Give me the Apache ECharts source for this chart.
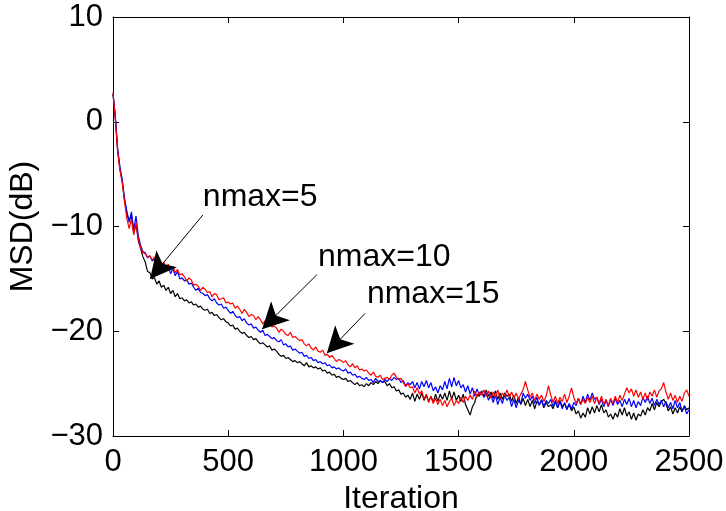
<!DOCTYPE html>
<html>
<head>
<meta charset="utf-8">
<script src="https://cdn.jsdelivr.net/npm/echarts@6/dist/echarts.min.js"></script>
<style>
html,body{margin:0;padding:0;background:#fff;}
#chart{width:726px;height:511px;}
</style>
</head>
<body>
<div id="chart"></div>
<script>
const iterStep = 10;
const seriesNames = ['nmax=5', 'nmax=10', 'nmax=15'];
const xTicks = [0, 500, 1000, 1500, 2000, 2500];
const yTicks = [-30, -20, -10, 0, 10];

const msdBlack = [
 2.7, 0.4, -2.7, -4.5, -5.7, -7.5, -8.8, -9.4, -9.0, -10.6,
 -9.8, -11.4, -12.1, -12.9, -13.4, -14.3, -14.4, -15.0, -14.9, -15.5,
 -15.2, -15.8, -15.6, -16.1, -15.8, -16.4, -16.1, -16.7, -16.4, -16.9,
 -16.8, -17.1, -17.0, -17.3, -17.2, -17.5, -17.4, -17.7, -17.6, -17.9,
 -18.0, -17.9, -18.3, -18.2, -18.5, -18.4, -18.7, -18.9, -18.8, -19.1,
 -19.2, -19.5, -19.4, -19.8, -19.7, -20.0, -20.2, -20.1, -20.4, -20.6,
 -20.5, -20.8, -20.7, -21.0, -21.2, -21.1, -21.3, -21.5, -21.4, -21.8,
 -21.7, -21.9, -22.2, -22.4, -22.3, -22.6, -22.5, -22.7, -22.9, -22.8,
 -23.0, -22.9, -23.1, -23.3, -23.0, -23.4, -23.3, -23.5, -23.4, -23.6,
 -23.5, -23.8, -23.7, -24.0, -23.9, -24.2, -24.1, -24.4, -24.3, -24.5,
 -24.6, -24.5, -24.8, -24.7, -24.9, -25.1, -24.9, -25.2, -25.1, -25.3,
 -25.0, -25.2, -24.9, -25.1, -24.8, -25.0, -24.7, -24.9, -24.8, -25.2,
 -25.0, -25.4, -25.3, -25.7, -25.6, -26.0, -25.9, -26.3, -26.1, -26.5,
 -25.9, -26.7, -26.0, -26.5, -25.9, -26.6, -26.1, -26.7, -26.2, -26.8,
 -26.0, -26.7, -26.0, -26.5, -25.9, -26.6, -25.7, -26.5, -25.8, -26.6,
 -26.1, -26.7, -26.0, -27.0, -27.5, -28.0, -27.2, -26.8, -26.0, -26.2,
 -25.7, -26.3, -25.6, -26.2, -25.8, -26.4, -25.7, -26.5, -25.9, -26.5,
 -25.9, -26.2, -26.0, -26.7, -26.1, -26.9, -26.3, -27.0, -26.4, -27.1,
 -26.5, -27.2, -26.6, -27.4, -26.7, -27.0, -26.6, -27.3, -26.8, -27.2,
 -27.0, -27.4, -26.7, -27.3, -26.6, -27.2, -26.9, -27.4, -27.0, -27.6,
 -27.2, -27.9, -27.6, -28.3, -27.8, -28.2, -27.3, -27.9, -27.2, -27.8,
 -27.1, -27.7, -27.0, -27.8, -27.5, -28.2, -27.9, -28.4, -27.8, -28.2,
 -27.4, -28.0, -27.3, -28.1, -27.7, -28.4, -27.8, -28.5, -27.9, -28.1,
 -27.5, -28.0, -27.3, -27.6, -26.9, -27.5, -26.8, -27.2, -26.7, -26.5,
 -26.9, -27.6, -27.2, -27.9, -27.3, -27.8, -27.2, -27.7, -27.1, -27.5,
 -27.3
];

const msdBlue = [
 2.6, 0.6, -2.5, -4.3, -5.5, -7.3, -8.5, -9.6, -8.6, -10.3,
 -9.0, -10.9, -11.8, -12.4, -12.5, -13.0, -12.8, -13.3, -13.1, -13.5,
 -13.3, -13.8, -13.5, -14.2, -13.8, -14.5, -14.0, -14.7, -14.3, -15.0,
 -14.9, -15.2, -15.1, -15.5, -15.4, -15.8, -16.1, -15.9, -16.3, -16.4,
 -16.6, -16.5, -16.9, -17.1, -16.9, -17.3, -17.5, -17.4, -17.8, -17.7,
 -18.0, -18.3, -18.1, -18.5, -18.7, -18.6, -19.0, -18.8, -19.2, -19.4,
 -19.3, -19.7, -19.6, -19.9, -20.1, -19.9, -20.4, -20.3, -20.5, -20.7,
 -20.6, -20.9, -21.0, -20.8, -21.3, -21.2, -21.5, -21.4, -21.8, -21.7,
 -21.9, -22.1, -22.0, -22.4, -22.3, -22.6, -22.5, -22.8, -22.7, -23.0,
 -22.9, -23.1, -23.0, -23.3, -23.2, -23.5, -23.4, -23.6, -23.5, -23.7,
 -23.8, -23.6, -24.0, -23.9, -24.2, -24.1, -24.4, -24.3, -24.5, -24.6,
 -24.4, -24.7, -24.6, -24.9, -24.5, -24.8, -24.7, -24.9, -24.6, -24.8,
 -24.5, -24.7, -24.4, -24.6, -24.5, -24.9, -24.7, -25.2, -24.9, -25.1,
 -24.8, -25.4, -24.9, -25.5, -24.8, -25.3, -24.7, -25.4, -24.9, -25.7,
 -25.3, -25.9, -25.2, -25.6, -24.8, -25.5, -24.5, -25.3, -24.4, -25.2,
 -24.7, -25.4, -25.1, -25.8, -25.2, -26.0, -25.4, -26.2, -25.5, -26.1,
 -25.7, -26.3, -25.9, -26.6, -26.0, -26.8, -26.1, -27.0, -26.3, -26.9,
 -26.1, -26.6, -26.3, -27.2, -26.5, -27.3, -26.6, -26.9, -25.9, -26.4,
 -26.0, -26.6, -26.2, -26.9, -26.3, -27.1, -26.5, -27.2, -26.6, -26.9,
 -26.5, -27.2, -26.6, -27.3, -26.7, -27.4, -26.8, -27.5, -26.9, -27.4,
 -26.8, -27.1, -26.4, -27.0, -26.2, -26.8, -26.0, -26.6, -25.9, -26.5,
 -26.3, -27.0, -26.5, -27.2, -26.6, -27.2, -26.5, -27.1, -26.4, -27.0,
 -26.6, -27.2, -26.5, -27.0, -26.4, -27.2, -26.6, -27.3, -26.7, -27.1,
 -26.3, -26.8, -26.2, -26.9, -26.4, -27.1, -26.5, -27.0, -26.6, -27.2,
 -26.7, -27.3, -26.8, -27.4, -26.6, -27.3, -26.8, -27.6, -27.2, -27.9,
 -27.5
];

const msdRed = [
 2.8, 0.3, -2.8, -4.6, -5.8, -7.6, -9.2, -10.2, -9.3, -10.8,
 -9.6, -11.2, -12.0, -12.5, -12.6, -12.9, -12.8, -13.2, -12.9, -13.3,
 -13.3, -13.7, -13.4, -13.9, -13.6, -14.1, -13.8, -14.4, -14.1, -14.6,
 -14.5, -14.8, -15.2, -14.9, -15.1, -15.6, -15.5, -15.7, -16.1, -15.8,
 -16.0, -16.3, -16.2, -16.7, -16.4, -16.5, -17.0, -16.9, -16.8, -17.3,
 -17.2, -17.4, -17.3, -17.8, -17.6, -17.9, -18.3, -17.9, -18.2, -18.6,
 -18.4, -18.5, -18.9, -18.6, -18.9, -19.3, -19.0, -19.4, -19.2, -19.6,
 -19.5, -19.7, -20.1, -19.8, -20.0, -20.3, -20.4, -20.1, -20.6, -20.5,
 -20.7, -20.9, -20.8, -21.2, -21.4, -21.2, -21.6, -21.8, -21.5, -21.9,
 -22.0, -21.8, -22.3, -22.2, -22.5, -22.3, -22.6, -22.9, -22.7, -22.8,
 -23.0, -22.8, -23.2, -23.4, -23.1, -23.5, -23.3, -23.7, -23.6, -23.8,
 -23.7, -24.0, -24.2, -23.9, -24.3, -24.4, -24.2, -24.6, -24.5, -24.4,
 -24.6, -24.2, -24.0, -24.4, -24.6, -24.5, -24.9, -25.3, -25.0, -25.4,
 -25.3, -25.9, -25.4, -26.0, -25.7, -26.5, -26.0, -26.8, -26.2, -26.9,
 -26.4, -27.0, -26.5, -27.1, -26.6, -27.2, -26.7, -26.4, -27.1, -26.6,
 -26.9, -26.3, -26.8, -26.2, -26.6, -26.1, -26.5, -25.7, -26.3, -25.8,
 -26.1, -25.6, -26.2, -25.7, -26.4, -25.8, -26.3, -25.6, -26.4, -25.9,
 -26.2, -25.6, -26.3, -25.8, -26.4, -25.9, -26.5, -26.0, -25.6, -24.8,
 -25.6, -26.3, -25.9, -26.6, -26.0, -26.5, -26.1, -26.7, -26.2, -25.2,
 -26.1, -26.8, -26.2, -26.9, -26.3, -26.7, -26.0, -26.8, -26.2, -25.4,
 -26.3, -26.9, -26.4, -27.0, -26.5, -26.9, -26.3, -26.8, -26.2, -26.9,
 -26.3, -26.9, -26.2, -27.0, -26.5, -27.1, -26.4, -26.9, -26.2, -26.8,
 -26.1, -26.6, -26.0, -25.4, -25.9, -25.5, -26.2, -25.6, -26.3, -25.8,
 -26.5, -25.9, -26.6, -25.8, -26.2, -25.6, -26.3, -25.7, -25.5, -24.9,
 -25.8, -26.5, -25.9, -26.6, -26.1, -26.8, -26.2, -26.7, -25.9, -25.6,
 -26.2
];

// annotation text anchors (data coords: iteration, dB) — left/middle of text
const annotText = [[390, -7.2], [890, -12.95], [1102, -16.5]];
// arrow tails and tips (data coords)
const arrowTail = [[390, -8.9], [885, -14.6], [1094, -18.3]];
const arrowTip  = [[161, -15.0], [647, -19.8], [928, -22.1]];

// ---- build ----
function toPairs(arr) { return arr.map((v, i) => [i * iterStep, v]); }
const minusFmt = v => (v < 0 ? '\u2212' + Math.abs(v) : String(v));
const plainFmt = v => String(v);
const FONT = 'Liberation Sans, Arial, Helvetica, sans-serif';

const chart = echarts.init(document.getElementById('chart'), null, {renderer: 'canvas'});

const axisLine = {show: true, onZero: false, lineStyle: {color: '#000', width: 1}};
const axisTick = {show: true, inside: true, length: 6, lineStyle: {color: '#000', width: 1}};

const arrowLines = arrowTail.map((t, i) => [
  {coord: t, symbol: 'none'},
  {coord: arrowTip[i], symbol: 'arrow'}
]);

chart.setOption({
  animation: false,
  backgroundColor: '#fff',
  grid: {left: 113, right: 37, top: 17, bottom: 75, containLabel: false, outerBoundsMode: 'none'},
  xAxis: [
    {type: 'value', min: xTicks[0], max: xTicks[xTicks.length - 1], interval: 500, position: 'bottom',
     name: 'Iteration', nameLocation: 'middle', nameGap: 46,
     nameTextStyle: {fontSize: 32, color: '#000', fontFamily: FONT},
     axisLine: axisLine, axisTick: axisTick, splitLine: {show: false},
     axisLabel: {fontSize: 31, color: '#000', fontFamily: FONT, margin: 11, formatter: plainFmt}},
    {type: 'value', min: xTicks[0], max: xTicks[xTicks.length - 1], interval: 500, position: 'top',
     axisLine: axisLine, axisTick: axisTick, splitLine: {show: false}, axisLabel: {show: false}}
  ],
  yAxis: [
    {type: 'value', min: yTicks[0], max: yTicks[yTicks.length - 1], interval: 10, position: 'left',
     name: 'MSD(dB)', nameLocation: 'middle', nameGap: 71, nameRotate: 90,
     nameTextStyle: {fontSize: 32, color: '#000', fontFamily: FONT},
     axisLine: axisLine, axisTick: axisTick, splitLine: {show: false},
     axisLabel: {fontSize: 31, color: '#000', fontFamily: FONT, margin: 10, formatter: minusFmt}},
    {type: 'value', min: yTicks[0], max: yTicks[yTicks.length - 1], interval: 10, position: 'right',
     axisLine: axisLine, axisTick: axisTick, splitLine: {show: false}, axisLabel: {show: false}}
  ],
  series: [
    {name: seriesNames[0], type: 'line', data: toPairs(msdBlack), showSymbol: false, symbol: 'none',
     lineStyle: {color: '#000000', width: 1.2}, z: 2, silent: true},
    {name: seriesNames[1], type: 'line', data: toPairs(msdBlue), showSymbol: false, symbol: 'none',
     lineStyle: {color: '#0000ff', width: 1.2}, z: 3, silent: true},
    {name: seriesNames[2], type: 'line', data: toPairs(msdRed), showSymbol: false, symbol: 'none',
     lineStyle: {color: '#ff0000', width: 1.2}, z: 4, silent: true,
     markLine: {silent: true, symbol: ['none', 'arrow'], symbolSize: [20, 26],
       lineStyle: {color: '#000', width: 1, type: 'solid'},
       itemStyle: {color: '#000'},
       label: {show: false}, emphasis: {disabled: true},
       data: arrowLines}}
  ]
});

const texts = annotText.map((p, i) => {
  const px = chart.convertToPixel({gridIndex: 0}, p);
  return {type: 'text', x: px[0], y: px[1], z: 10,
    style: {text: seriesNames[i], fontSize: 32, fontFamily: FONT, fill: '#000',
            textAlign: 'left', textVerticalAlign: 'middle'}};
});
chart.setOption({graphic: texts});
</script>
</body>
</html>
